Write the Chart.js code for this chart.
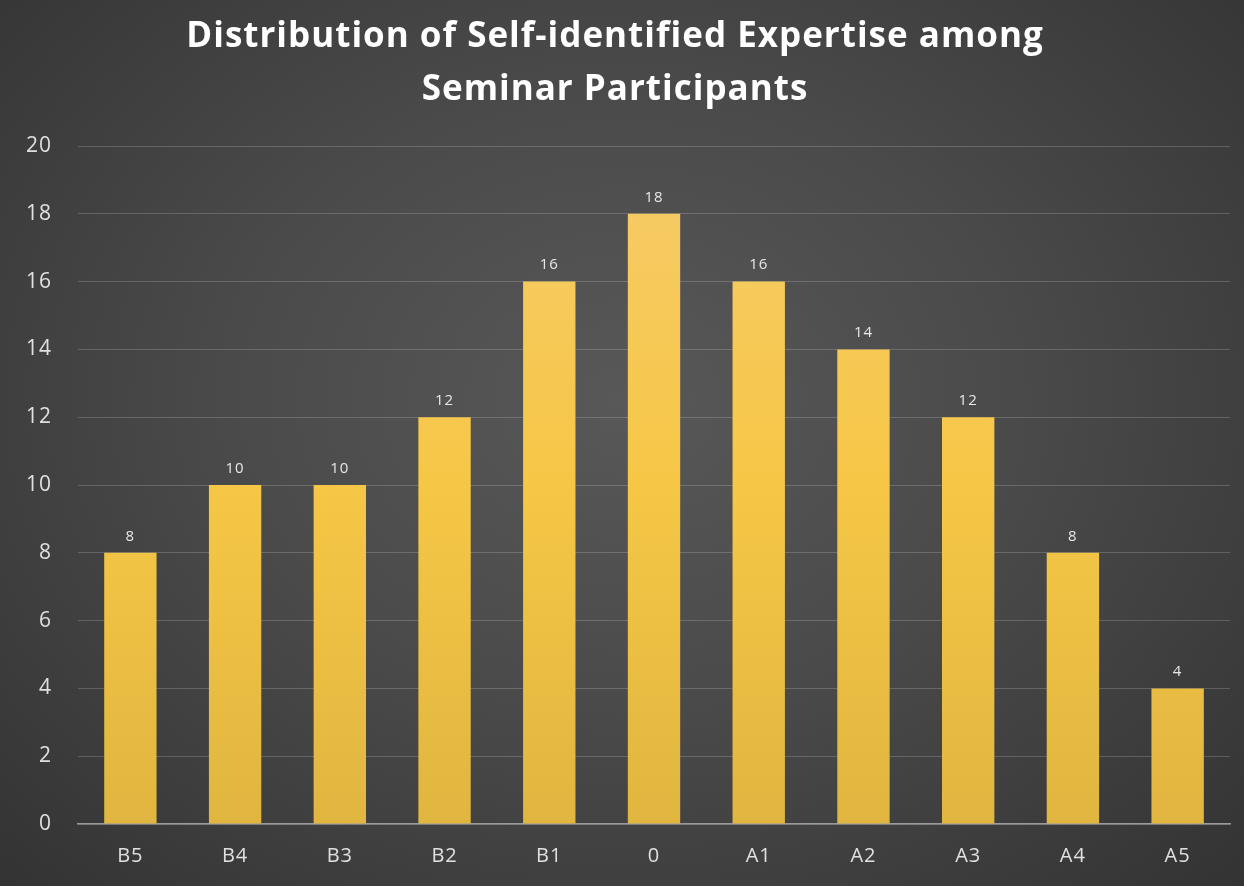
<!DOCTYPE html>
<html>
<head>
<meta charset="utf-8">
<script src="https://cdn.jsdelivr.net/npm/chart.js@4"></script>
<style>
  html, body { margin: 0; padding: 0; }
  body {
    width: 1244px; height: 886px; overflow: hidden;
    background: radial-gradient(ellipse at 50% 45%, #585858 0%, #4a4a4a 45%, #333333 100%);
  }
  #wrap { position: absolute; left: 0; top: 0; width: 1244px; height: 886px; }
  #chart { letter-spacing: 1px; }
</style>
</head>
<body>
<div id="wrap"><canvas id="chart"></canvas></div>
<script>
// Chart data
const categories = ['B5', 'B4', 'B3', 'B2', 'B1', '0', 'A1', 'A2', 'A3', 'A4', 'A5'];
const counts = [8, 10, 10, 12, 16, 18, 16, 14, 12, 8, 4];
const titleLines = ['Distribution of Self-identified Expertise among', 'Seminar Participants'];

// Vertical yellow gradient for each bar
function barGradient(context) {
    const { chart } = context;
    const area = chart.chartArea;
    if (!area) return '#F6C744';
    const g = chart.ctx.createLinearGradient(0, area.top, 0, area.bottom);
    g.addColorStop(0, '#F6CB6A');
    g.addColorStop(0.5, '#F6C746');
    g.addColorStop(1, '#E0B640');
    return g;
}

// Value labels above bars
const valueLabels = {
    id: 'valueLabels',
    afterDatasetsDraw(chart) {
        const { ctx } = chart;
        const meta = chart.getDatasetMeta(0);
        ctx.save();
        ctx.font = '15px "Open Sans", sans-serif';
        ctx.fillStyle = '#e8e8e8';
        ctx.textAlign = 'center';
        ctx.textBaseline = 'bottom';
        meta.data.forEach((bar, i) => {
            ctx.fillText(String(counts[i]), bar.x, bar.y - 9);
        });
        ctx.restore();
    }
};

new Chart(document.getElementById('chart'), {
    type: 'bar',
    data: {
        labels: categories,
        datasets: [{
            data: counts,
            backgroundColor: barGradient,
            categoryPercentage: 1,
            barPercentage: 0.5
        }]
    },
    plugins: [valueLabels],
    options: {
        responsive: true,
        maintainAspectRatio: false,
        animation: false,
        layout: { padding: { left: 0, right: 14, bottom: 6, top: 0 } },
        plugins: {
            legend: { display: false },
            tooltip: { enabled: false },
            title: {
                display: true,
                text: titleLines,
                color: '#ffffff',
                font: { family: '"Open Sans", sans-serif', size: 35, weight: 'bold', lineHeight: 1.5 },
                padding: { top: 11, bottom: 30 }
            }
        },
        scales: {
            x: {
                grid: { display: false },
                border: { color: '#9a9a9a', width: 1.5 },
                ticks: { color: '#e0e0e0', font: { family: '"Open Sans", sans-serif', size: 20 }, padding: 12 }
            },
            y: {
                min: 0,
                max: 20,
                ticks: { stepSize: 2, color: '#e0e0e0', font: { family: '"Open Sans", sans-serif', size: 21 }, padding: 26 },
                grid: { color: 'rgba(255,255,255,0.18)', drawTicks: false },
                border: { display: false }
            }
        }
    }
});
</script>
</body>
</html>
